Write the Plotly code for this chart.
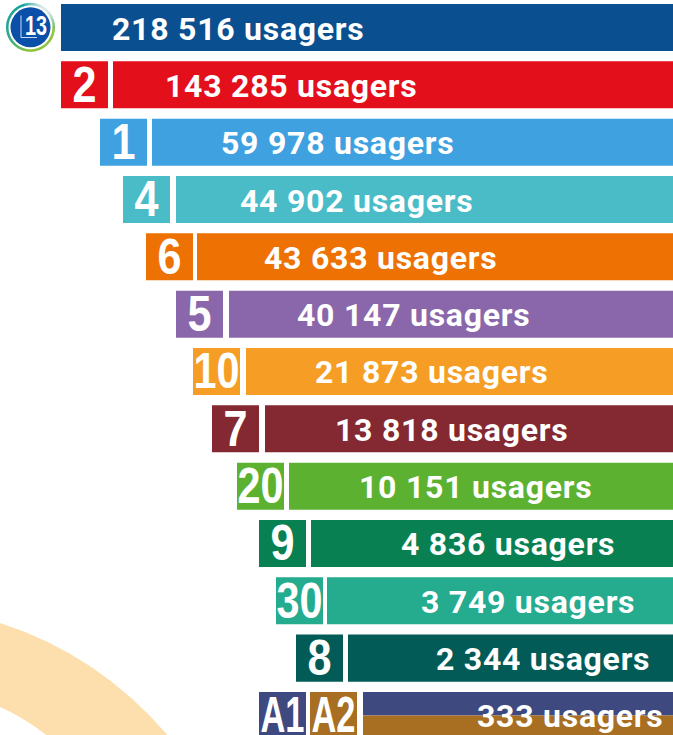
import math
import plotly.graph_objects as go

W, H = 673, 735

# ---- data -------------------------------------------------------------
lines = ["13", "2", "1", "4", "6", "5", "10", "7", "20", "9", "30", "8", "A1/A2"]
users = [218516, 143285, 59978, 44902, 43633, 40147, 21873, 13818, 10151, 4836, 3749, 2344, 333]
# the picture's bars are not proportional to the counts: lengths as read from it
bar_lengths = [612, 560, 521, 497, 476, 444, 427, 408, 384, 362, 346, 325, 310]
bar_colors = ["#0A4F8F", "#E3101B", "#3FA1DF", "#4ABCC7", "#EE7203", "#8A67AA", "#F69D26",
              "#842931", "#5CB130", "#098052", "#25AB8E", "#025B57", "#3E4A7F"]
badge_gaps = [0, 5, 5, 6, 4, 6, 6, 6, 5, 5, 4, 5, 6]
label_insets = [51, 52, 69, 64, 67, 68, 69, 70, 70, 90, 94, 88, 114]
A2_COLOR = "#A86F22"
BADGE_W = 47
NAVY, BROWN = bar_colors[-1], A2_COLOR

def fmt(n):
    return f"{n:,}".replace(",", " ") + " usagers"

rows = list(range(len(lines)))
fig = go.Figure()

# main bars, the last row is split in two halves
fig.add_bar(orientation="h", y=rows[:-1], x=bar_lengths[:-1], width=0.82,
            marker=dict(color=bar_colors[:-1], line_width=0), showlegend=False)
fig.add_bar(orientation="h", y=[rows[-1]], x=[bar_lengths[-1]], width=[0.41], offset=-0.41,
            marker=dict(color=NAVY, line_width=0), showlegend=False)
fig.add_bar(orientation="h", y=[rows[-1]], x=[bar_lengths[-1]], width=[0.41], offset=0,
            marker=dict(color=BROWN, line_width=0), showlegend=False)

# line badges
BF = dict(family="Liberation Sans", color="white", weight=700, size=50)
idx = rows[1:-1]
fig.add_bar(orientation="h", y=idx, x=[BADGE_W] * len(idx),
            base=[bar_lengths[i] + badge_gaps[i] for i in idx], width=0.82,
            marker=dict(color=[bar_colors[i] for i in idx], line_width=0),
            text=[lines[i] for i in idx], textposition="inside", insidetextanchor="middle",
            textangle=0, constraintext="none", textfont=BF, showlegend=False)
a2_base = bar_lengths[-1] + badge_gaps[-1]
a1_base = a2_base + BADGE_W + 4
for label, base, col in (("A2", a2_base, A2_COLOR), ("A1", a1_base, NAVY)):
    fig.add_bar(orientation="h", y=[rows[-1]], x=[BADGE_W], base=[base], width=0.82,
                marker=dict(color=col, line_width=0), text=[label], textposition="inside",
                insidetextanchor="middle", textangle=0, constraintext="none", textfont=BF,
                showlegend=False)

# value labels, nudged down a little to sit centred on the bars
fig.add_scatter(mode="text", y=[r + 0.07 for r in rows],
                x=[bar_lengths[i] - label_insets[i] for i in rows],
                text=[fmt(u) for u in users], textposition="middle right",
                textfont=dict(family="Roboto", size=32, color="white", weight=700),
                hoverinfo="skip", showlegend=False, cliponaxis=False)

# ---- decoration --------------------------------------------------------
def px(x, y):
    return f"{x / W:.5f},{1 - y / H:.5f}"

shapes = [dict(type="path", xref="paper", yref="paper", layer="below", line_width=0,
               fillcolor="#FDDFAE",
               path=f"M {px(0,623)} Q {px(100,655)} {px(170,738)} L {px(50,738)} "
                    f"Q {px(25,718)} {px(0,707)} Z")]

def ring_seg(cx, cy, r1, r2, a0, a1, col):
    p0 = (cx + r2 * math.cos(a0), cy + r2 * math.sin(a0))
    p1 = (cx + r2 * math.cos(a1), cy + r2 * math.sin(a1))
    p2 = (cx + r1 * math.cos(a1), cy + r1 * math.sin(a1))
    p3 = (cx + r1 * math.cos(a0), cy + r1 * math.sin(a0))
    return dict(type="path", xref="paper", yref="paper", line_width=0, fillcolor=col,
                path=f"M {px(*p0)} L {px(*p1)} L {px(*p2)} L {px(*p3)} Z")

def mix(c1, c2, t):
    return "rgb(" + ",".join(str(round(a + (b - a) * t)) for a, b in zip(c1, c2)) + ")"

CX, CY = 30.5, 27.3
N = 72
for k in range(N):
    a0 = 2 * math.pi * k / N
    a1 = 2 * math.pi * (k + 1.2) / N
    mid = (a0 + a1) / 2
    t = (math.sin(mid) + 1) / 2
    s = (math.cos(mid) + 1) / 2
    base = mix((16, 160, 160), (140, 195, 60), min(1, t ** 1.2 * s * 1.5 + 0.35 * t))
    c = tuple(int(v) for v in base[4:-1].split(","))
    light = max(0.0, -math.sin(mid)) * max(0.0, math.cos(mid) + 0.3)
    col = mix(c, (230, 240, 240), min(1, light * 1.3))
    shapes.append(ring_seg(CX, CY, 22, 24.5, a0, a1, col))

shapes.append(dict(type="circle", xref="paper", yref="paper", line_width=0, fillcolor="#0A4FA8",
                   x0=(CX - 20) / W, x1=(CX + 20) / W, y0=1 - (CY + 20) / H, y1=1 - (CY - 20) / H))
shapes.append(dict(type="path", xref="paper", yref="paper", fillcolor="rgba(0,0,0,0)",
                   line=dict(color="#C9DCF2", width=1),
                   path=f"M {px(21,15.5)} L {px(21,37.5)} L {px(37,37.5)}"))

annotations = [dict(text="13", x=35.5 / W, y=1 - 26.5 / H, xref="paper", yref="paper",
                    showarrow=False, xanchor="center", yanchor="middle",
                    font=dict(family="Liberation Sans", size=27, color="white", weight=700))]

# ---- layout ------------------------------------------------------------
PITCH = 57.33
FIRST = 27.5
fig.update_layout(
    width=W, height=H, margin=dict(l=0, r=0, t=0, b=0), barmode="overlay",
    paper_bgcolor="white", plot_bgcolor="rgba(0,0,0,0)", showlegend=False,
    shapes=shapes, annotations=annotations,
    xaxis=dict(range=[W, 0], visible=False, fixedrange=True),
    yaxis=dict(range=[(H - FIRST) / PITCH, -FIRST / PITCH], visible=False, fixedrange=True),
)
CSS = ("html,body{margin:0;padding:0;overflow:hidden}"
       ".textpoint text{letter-spacing:0.75px}")
POST = ("var s=document.createElement('style');s.textContent=" + repr(CSS) +
        ";document.head.appendChild(s);"
        "document.querySelectorAll('text.bartext').forEach(function(t){"
        "var c=t.textContent;var n=c.length==1?24:(c[0]=='A'?44:46);"
        "t.setAttribute('textLength',n);t.setAttribute('lengthAdjust','spacingAndGlyphs');});"
        "document.querySelectorAll('text.annotation-text').forEach(function(t){"
        "t.setAttribute('textLength',22);t.setAttribute('lengthAdjust','spacingAndGlyphs');});")
fig.write_html("out.html", config=dict(displayModeBar=False), post_script=POST)
